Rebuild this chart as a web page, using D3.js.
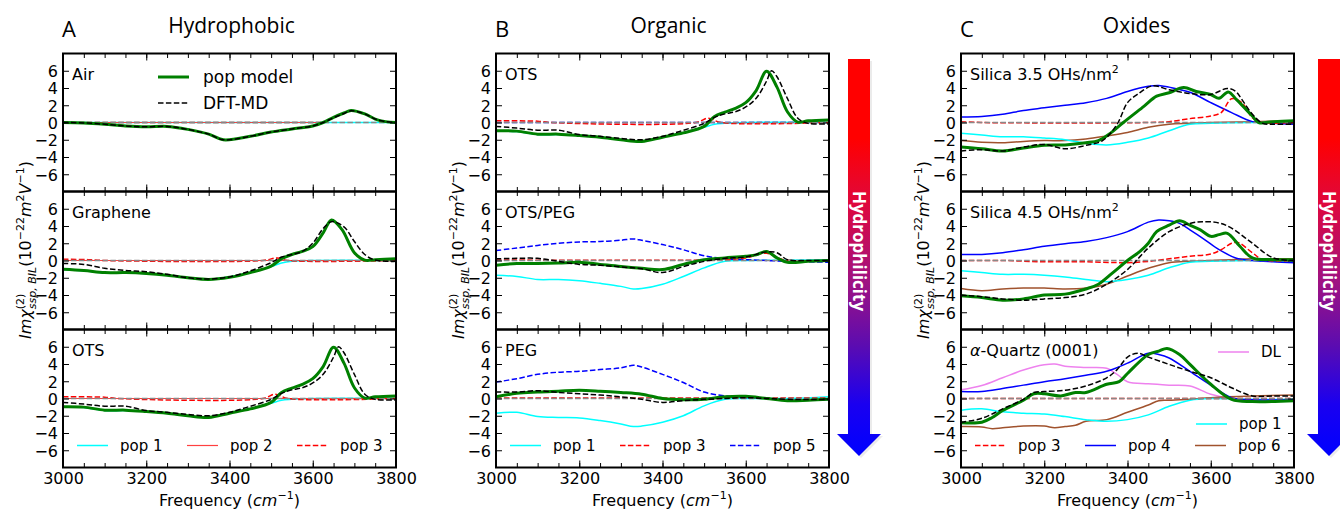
<!DOCTYPE html>
<html>
<head>
<meta charset="utf-8">
<script src="https://cdn.jsdelivr.net/npm/d3@7"></script>
<style>
  body { margin: 0; background: #fff; }
  text { font-family: "DejaVu Sans", sans-serif; }
</style>
</head>
<body>
<div id="viz"></div>
<script>
"use strict";
(function(){
    // ---- data: [frequency cm^-1, Im chi (1e-22 m2/V)] ----
    const freqTicks = [3000, 3200, 3400, 3600, 3800]
    const valueTicks = [-6, -4, -2, 0, 2, 4, 6]

    // A / Air
    const airModel = [[3000,0],[3050,-0.05],[3100,-0.2],[3150,-0.4],[3200,-0.5],[3250,-0.45],[3300,-0.8],[3350,-1.35],[3385,-2.0],[3450,-1.6],[3500,-1.1],[3550,-0.75],[3600,-0.4],[3625,0],[3650,0.6],[3675,1.1],[3692,1.4],[3725,1.0],[3750,0.4],[3775,0.1],[3800,0]]
    const airDft = [[3000,0],[3050,-0.05],[3100,-0.2],[3150,-0.4],[3200,-0.5],[3250,-0.45],[3300,-0.8],[3350,-1.35],[3385,-2.0],[3450,-1.6],[3500,-1.1],[3550,-0.75],[3600,-0.4],[3625,0],[3650,0.55],[3675,1.05],[3692,1.35],[3725,1.0],[3750,0.4],[3775,0.1],[3800,0]]
    const airPop1 = [[3000,0],[3800,0]]
    const airPop2 = [[3000,0],[3620,0]]
    const airPop3 = [[3000,0],[3620,0]]

    // A / Graphene
    const grModel = [[3000,-1.0],[3050,-1.15],[3100,-1.4],[3150,-1.4],[3200,-1.5],[3250,-1.7],[3300,-2.0],[3350,-2.2],[3400,-1.95],[3450,-1.4],[3500,-0.65],[3525,0.2],[3550,0.7],[3575,1.05],[3600,1.6],[3625,3.2],[3645,4.7],[3670,3.6],[3700,0.9],[3725,0.05],[3750,0.1],[3800,0.2]]
    const grDft = [[3000,-0.35],[3050,-0.45],[3100,-0.9],[3150,-1.15],[3200,-1.3],[3250,-1.6],[3300,-2.0],[3350,-2.15],[3400,-1.9],[3450,-1.2],[3500,-0.25],[3525,0.4],[3550,0.7],[3575,1.05],[3600,2.0],[3625,3.7],[3645,4.5],[3675,3.9],[3700,2.2],[3725,0.7],[3750,0.05],[3800,-0.1]]
    const grPop1 = [[3000,-1.05],[3050,-1.2],[3100,-1.45],[3150,-1.45],[3200,-1.5],[3250,-1.7],[3300,-2.0],[3350,-2.2],[3400,-1.9],[3450,-1.4],[3500,-0.7],[3525,-0.3],[3550,-0.1],[3600,0],[3800,0]]
    const grPop2 = [[3000,0],[3800,0]]
    const grPop3 = [[3000,0.15],[3060,0.1],[3100,0],[3480,0],[3515,0.3],[3540,0],[3800,0]]

    // A / OTS and B / OTS
    const otsModel = [[3000,-0.95],[3050,-1.0],[3100,-1.35],[3150,-1.35],[3200,-1.5],[3250,-1.7],[3300,-2.0],[3350,-2.2],[3400,-1.7],[3450,-1.2],[3500,-0.45],[3525,0.7],[3550,1.2],[3575,1.65],[3600,2.3],[3625,3.7],[3650,5.95],[3675,4.1],[3700,1.25],[3725,0.05],[3750,0.2],[3800,0.3]]
    const otsDft = [[3000,-0.45],[3050,-0.65],[3100,-0.9],[3150,-0.9],[3200,-1.4],[3250,-1.6],[3300,-1.85],[3350,-2.0],[3400,-1.6],[3450,-0.9],[3500,-0.1],[3525,0.6],[3550,1.0],[3575,1.25],[3600,1.8],[3625,2.8],[3650,4.8],[3662,6.0],[3675,5.3],[3700,2.8],[3725,0.5],[3750,-0.1],[3800,-0.15]]
    const otsPop1 = [[3000,-1.0],[3050,-1.05],[3100,-1.4],[3150,-1.4],[3200,-1.5],[3250,-1.7],[3300,-2.0],[3350,-2.2],[3400,-1.7],[3450,-1.2],[3500,-0.55],[3525,-0.2],[3550,-0.1],[3600,0],[3800,0]]
    const otsPop2 = [[3000,0],[3800,0]]
    const otsPop3 = [[3000,0.2],[3100,0.15],[3130,0],[3480,0],[3510,0.5],[3540,0],[3800,0]]
    const otsPop5 = [[3000,0],[3800,0]]

    // B / OTS-PEG
    const opModel = [[3000,-0.55],[3050,-0.35],[3100,-0.35],[3150,-0.3],[3200,-0.2],[3250,-0.45],[3300,-0.7],[3350,-0.9],[3400,-1.05],[3450,-0.45],[3500,0.1],[3550,0.3],[3600,0.5],[3625,0.65],[3650,1.05],[3675,0.3],[3700,-0.2],[3750,-0.1],[3800,0]]
    const opDft = [[3000,0.2],[3050,0.25],[3100,0.25],[3150,-0.1],[3200,-0.45],[3250,-0.55],[3300,-0.75],[3350,-0.95],[3400,-1.4],[3450,-0.7],[3500,-0.1],[3550,0.25],[3600,0.4],[3650,1.0],[3675,0.9],[3700,0.1],[3750,0],[3800,0]]
    const opPop1 = [[3000,-1.7],[3050,-1.85],[3100,-2.2],[3150,-2.2],[3200,-2.35],[3250,-2.65],[3300,-3.0],[3330,-3.3],[3350,-3.25],[3400,-2.75],[3450,-1.85],[3500,-0.85],[3550,-0.1],[3600,0],[3800,0.1]]
    const opPop3 = [[3000,0.05],[3500,0.05],[3550,0.1],[3600,0.3],[3650,0.85],[3690,0.1],[3800,0]]
    const opPop5 = [[3000,1.15],[3050,1.45],[3100,1.75],[3150,2.0],[3200,2.15],[3250,2.2],[3300,2.35],[3330,2.5],[3350,2.35],[3400,1.85],[3450,1.25],[3500,0.55],[3550,0.2],[3600,0.1],[3650,0],[3700,-0.1],[3750,-0.15],[3800,-0.2]]

    // B / PEG
    const pegModel = [[3000,0.2],[3050,0.6],[3100,0.75],[3150,0.85],[3200,0.95],[3250,0.85],[3300,0.7],[3350,0.5],[3400,0],[3450,-0.15],[3500,-0.1],[3550,0.2],[3600,0.25],[3650,0],[3700,-0.25],[3750,-0.2],[3800,-0.1]]
    const pegDft = [[3000,0.75],[3050,0.75],[3100,0.9],[3150,0.7],[3200,0.55],[3250,0.4],[3300,0.2],[3350,-0.1],[3400,-0.45],[3450,-0.25],[3500,-0.1],[3550,0],[3600,0.1],[3650,0],[3700,-0.1],[3800,-0.1]]
    const pegPop1 = [[3000,-1.7],[3050,-1.6],[3100,-2.1],[3150,-2.2],[3200,-2.25],[3250,-2.55],[3300,-2.95],[3330,-3.25],[3350,-3.2],[3400,-2.75],[3450,-2.0],[3500,-0.85],[3550,-0.1],[3600,0],[3700,0],[3800,0.2]]
    const pegPop3 = [[3000,0.05],[3800,0.05]]
    const pegPop5 = [[3000,1.9],[3050,2.3],[3100,2.8],[3150,3.05],[3200,3.15],[3250,3.35],[3300,3.55],[3330,3.85],[3350,3.65],[3400,2.8],[3450,1.85],[3500,0.75],[3550,0.3],[3600,0.1],[3650,0],[3700,-0.15],[3800,-0.15]]

    // C / Silica 3.5 OHs/nm2
    const s35Model = [[3000,-2.85],[3050,-3.05],[3100,-3.3],[3150,-2.95],[3200,-2.65],[3250,-2.6],[3300,-2.35],[3330,-2.1],[3360,-1.2],[3390,0],[3440,1.9],[3470,3.05],[3500,3.45],[3535,4.05],[3565,3.6],[3600,3.25],[3620,2.8],[3642,3.55],[3662,2.65],[3700,0.75],[3715,0],[3750,0.1],[3800,0.2]]
    const s35Dft = [[3000,-3.3],[3050,-3.15],[3100,-3.3],[3150,-2.85],[3200,-2.55],[3250,-3.05],[3300,-2.65],[3340,-2.1],[3375,-0.2],[3400,2.3],[3425,3.3],[3460,4.25],[3500,3.8],[3550,3.35],[3600,3.25],[3640,3.95],[3660,3.6],[3675,2.65],[3700,0.95],[3725,-0.1],[3750,-0.2],[3800,-0.2]]
    const s35Pop1 = [[3000,-1.25],[3050,-1.45],[3100,-1.65],[3150,-1.65],[3200,-1.8],[3250,-2.0],[3300,-2.4],[3350,-2.6],[3400,-2.3],[3450,-1.8],[3500,-0.95],[3550,-0.2],[3600,-0.1],[3700,0],[3800,0]]
    const s35Pop3 = [[3000,0.1],[3050,0],[3450,0],[3500,0.1],[3550,0.45],[3600,0.75],[3625,1.15],[3650,2.75],[3675,2.3],[3700,0.55],[3725,0],[3800,0]]
    const s35Pop4 = [[3000,0.65],[3050,0.7],[3100,0.95],[3150,1.4],[3200,1.7],[3250,2.0],[3300,2.3],[3350,2.8],[3400,3.6],[3450,4.2],[3475,4.3],[3500,4.1],[3550,3.5],[3600,2.3],[3650,1.15],[3700,0.1],[3750,-0.1],[3800,-0.2]]
    const s35Pop6 = [[3000,-2.1],[3050,-2.3],[3100,-2.35],[3150,-2.2],[3200,-2.1],[3250,-2.1],[3300,-1.9],[3350,-1.55],[3400,-1.15],[3450,-0.55],[3500,-0.2],[3550,-0.1],[3600,0],[3700,0.1],[3800,0.2]]

    // C / Silica 4.5 OHs/nm2
    const s45Model = [[3000,-4.1],[3050,-4.3],[3100,-4.6],[3150,-4.45],[3200,-4.0],[3250,-3.9],[3300,-3.3],[3330,-2.75],[3365,-1.4],[3400,0],[3430,1.05],[3450,2.0],[3470,3.35],[3500,4.1],[3525,4.6],[3550,4.1],[3575,3.55],[3600,2.8],[3620,3.0],[3640,3.15],[3670,1.65],[3700,0.3],[3750,0.1],[3800,0.1]]
    const s45Dft = [[3000,-4.0],[3050,-4.2],[3100,-4.45],[3150,-4.6],[3200,-4.45],[3250,-4.3],[3300,-3.9],[3350,-2.75],[3400,-1.05],[3450,1.45],[3500,3.35],[3550,4.3],[3580,4.5],[3620,4.35],[3650,3.75],[3700,2.0],[3750,0.3],[3800,0]]
    const s45Pop1 = [[3000,-1.2],[3050,-1.4],[3100,-1.6],[3150,-1.6],[3200,-1.7],[3250,-1.9],[3300,-2.2],[3350,-2.45],[3400,-2.2],[3450,-1.7],[3500,-0.85],[3550,-0.2],[3600,-0.1],[3700,0],[3800,-0.1]]
    const s45Pop3 = [[3000,0],[3100,0],[3200,-0.15],[3300,-0.15],[3400,-0.25],[3450,-0.1],[3500,0.2],[3550,0.5],[3600,0.75],[3625,1.25],[3650,2.0],[3665,2.1],[3700,0.9],[3725,0.1],[3800,0]]
    const s45Pop4 = [[3000,0.7],[3050,0.7],[3100,0.9],[3150,1.25],[3200,1.65],[3250,1.95],[3300,2.2],[3350,2.65],[3400,3.35],[3450,4.45],[3475,4.7],[3500,4.6],[3525,4.3],[3550,3.55],[3580,2.6],[3620,1.25],[3660,0.3],[3700,0],[3750,-0.15],[3800,-0.25]]
    const s45Pop6 = [[3000,-3.25],[3050,-3.5],[3100,-3.3],[3150,-3.2],[3200,-3.2],[3250,-3.3],[3300,-3.2],[3350,-2.75],[3400,-1.8],[3450,-0.9],[3500,-0.25],[3550,-0.1],[3600,0],[3650,0.1],[3700,0.2],[3800,0.2]]

    // C / alpha-Quartz (0001)
    const qzModel = [[3000,-2.8],[3050,-2.75],[3075,-2.2],[3100,-1.4],[3150,-0.2],[3175,0.55],[3200,0.55],[3240,0.3],[3275,0.7],[3300,0.7],[3350,1.65],[3380,1.95],[3400,2.9],[3450,5.1],[3475,5.5],[3495,5.8],[3525,5.1],[3550,3.95],[3600,1.65],[3650,-0.1],[3700,-0.35],[3800,-0.25]]
    const qzDft = [[3000,-2.75],[3050,-2.3],[3100,-1.2],[3150,-0.1],[3175,0.7],[3200,0.8],[3250,0.95],[3300,1.45],[3350,2.4],[3375,3.35],[3400,4.8],[3425,5.25],[3450,4.8],[3500,3.95],[3550,3.15],[3600,2.4],[3650,1.25],[3700,0.3],[3750,0.3],[3800,0.3]]
    const qzPop1 = [[3000,-1.35],[3050,-1.2],[3100,-1.55],[3150,-1.7],[3200,-1.8],[3250,-2.1],[3300,-2.45],[3350,-2.65],[3400,-2.45],[3450,-1.9],[3500,-0.9],[3550,-0.2],[3600,0],[3700,-0.1],[3800,-0.1]]
    const qzPop3 = [[3000,0],[3800,0]]
    const qzPop4 = [[3000,0.8],[3050,0.8],[3100,1.15],[3150,1.55],[3200,1.95],[3250,2.3],[3300,2.7],[3350,3.15],[3400,4.1],[3450,5.25],[3475,5.1],[3500,4.7],[3550,3.15],[3600,1.55],[3650,0.1],[3700,-0.15],[3800,-0.15]]
    const qzPop6 = [[3000,-3.25],[3050,-3.3],[3075,-3.5],[3100,-3.4],[3150,-3.2],[3200,-3.2],[3225,-3.4],[3250,-3.25],[3275,-3.1],[3300,-2.65],[3350,-2.45],[3400,-1.6],[3450,-0.75],[3475,-0.25],[3500,-0.2],[3550,-0.1],[3600,0.1],[3700,0.3],[3800,0.4]]
    const qzDL = [[3000,1.0],[3050,1.5],[3100,2.4],[3150,3.3],[3200,3.9],[3225,4.0],[3250,3.75],[3300,3.6],[3350,3.5],[3375,2.8],[3400,1.95],[3450,1.7],[3500,1.55],[3550,1.45],[3600,0.5],[3650,0],[3700,-0.15],[3800,-0.25]]

    const columnTitles = ["Hydrophobic", "Organic", "Oxides"]
    const columnLetters = ["A", "B", "C"]

    // ---- layout ----
    const measurements = { width: 1340, height: 512, panelW: 333, panelH: 138 }
    const colLeft = [63, 496, 961]
    const rowTop = [53.5, 191.5, 329.5]
    const dash = "5.5,2.4"

    const popStyle = {
        "pop 1": { color: "#00ffff", width: 1.5 },
        "pop 2": { color: "#ff4040", width: 1.2 },
        "pop 3": { color: "#ff0000", width: 1.5, dash: dash },
        "pop 4": { color: "#0000ff", width: 1.5 },
        "pop 5": { color: "#0000ff", width: 1.5, dash: dash },
        "pop 6": { color: "#a0522d", width: 1.5 },
        "DL": { color: "#ee82ee", width: 1.5 }
    }

    const panels = [
        { col: 0, row: 0, label: ["Air"], model: airModel, dft: airDft, pops: [["pop 1", airPop1], ["pop 2", airPop2], ["pop 3", airPop3]] },
        { col: 0, row: 1, label: ["Graphene"], model: grModel, dft: grDft, pops: [["pop 1", grPop1], ["pop 2", grPop2], ["pop 3", grPop3]] },
        { col: 0, row: 2, label: ["OTS"], model: otsModel, dft: otsDft, pops: [["pop 1", otsPop1], ["pop 2", otsPop2], ["pop 3", otsPop3]] },
        { col: 1, row: 0, label: ["OTS"], model: otsModel, dft: otsDft, pops: [["pop 1", otsPop1], ["pop 5", otsPop5], ["pop 3", otsPop3]] },
        { col: 1, row: 1, label: ["OTS/PEG"], model: opModel, dft: opDft, pops: [["pop 1", opPop1], ["pop 5", opPop5], ["pop 3", opPop3]] },
        { col: 1, row: 2, label: ["PEG"], model: pegModel, dft: pegDft, pops: [["pop 1", pegPop1], ["pop 5", pegPop5], ["pop 3", pegPop3]] },
        { col: 2, row: 0, label: ["Silica 3.5 OHs/nm", "2"], model: s35Model, dft: s35Dft, pops: [["pop 6", s35Pop6], ["pop 1", s35Pop1], ["pop 4", s35Pop4], ["pop 3", s35Pop3]] },
        { col: 2, row: 1, label: ["Silica 4.5 OHs/nm", "2"], model: s45Model, dft: s45Dft, pops: [["pop 6", s45Pop6], ["pop 1", s45Pop1], ["pop 4", s45Pop4], ["pop 3", s45Pop3]] },
        { col: 2, row: 2, label: ["α", "-Quartz (0001)"], model: qzModel, dft: qzDft, pops: [["DL", qzDL], ["pop 6", qzPop6], ["pop 1", qzPop1], ["pop 4", qzPop4], ["pop 3", qzPop3]] }
    ]

    const svg = d3.select("#viz").append("svg")
        .attr("width", measurements.width)
        .attr("height", measurements.height)

    const defs = svg.append("defs")

    panels.forEach((p, i) => drawPanel(p, i))

    // column titles, x labels, y labels
    colLeft.forEach((left, c) => {
        const cx = left + measurements.panelW / 2
        svg.append("text")
            .attr("x", left - 1).attr("y", 37)
            .style("font-family", "'Open Sans', sans-serif").style("font-size", "22px")
            .text(columnLetters[c])
        svg.append("text")
            .attr("x", cx + [2, 6, 9][c]).attr("y", 33)
            .attr("text-anchor", "middle")
            .style("font-family", "'Open Sans', sans-serif").style("font-size", "21px")
            .text(columnTitles[c])

        const xl = svg.append("text")
            .attr("x", cx).attr("y", 506)
            .attr("text-anchor", "middle")
            .style("font-size", "16px")
        xl.append("tspan").text("Frequency (")
        xl.append("tspan").style("font-style", "italic").text("cm")
        xl.append("tspan").attr("dy", -7).style("font-size", "11px").text("−1")
        xl.append("tspan").attr("dy", 7).text(")")

        drawYLabel(left - 32, 250)
    })

    // legends
    legendRow(colLeft[0] + 95, 77, "pop model", { color: "#008000", width: 3 }, 17)
    legendRow(colLeft[0] + 95, 103, "DFT-MD", { color: "#000", width: 1.5, dash: dash }, 17)
    ;["pop 1", "pop 2", "pop 3"].forEach((k, j) => legendRow(colLeft[0] + 14 + j * 110, 445.5, k, popStyle[k], 15))
    ;["pop 1", "pop 3", "pop 5"].forEach((k, j) => legendRow(colLeft[1] + 14 + j * 110, 445.5, k, popStyle[k], 15))
    ;["pop 3", "pop 4", "pop 6"].forEach((k, j) => legendRow(colLeft[2] + 14 + j * 110, 445.5, k, popStyle[k], 15))
    legendRow(colLeft[2] + 235, 424, "pop 1", popStyle["pop 1"], 15)
    legendRow(colLeft[2] + 257, 352, "DL", popStyle["DL"], 15)

    // hydrophilicity arrows
    drawArrow(859)
    drawArrow(1329)

    function drawPanel(p, i) {
        const left = colLeft[p.col], top = rowTop[p.row]
        const W = measurements.panelW, H = measurements.panelH
        const x = d3.scaleLinear().domain([3000, 3800]).range([left, left + W])
        const y = d3.scaleLinear().domain([-8, 8]).range([top + H, top])
        const g = svg.append("g")

        defs.append("clipPath").attr("id", "clip" + i)
            .append("rect").attr("x", left).attr("y", top).attr("width", W).attr("height", H)

        const line = d3.line()
            .x(d => x(d[0])).y(d => y(d[1]))
            .curve(d3.curveCatmullRom.alpha(0.5))

        const plot = g.append("g").attr("clip-path", "url(#clip" + i + ")")
        p.pops.forEach(([key, data]) => {
            const s = popStyle[key]
            plot.append("path").datum(data)
                .attr("d", line).attr("fill", "none")
                .attr("stroke", s.color).attr("stroke-width", s.width)
                .attr("stroke-dasharray", s.dash || null)
        })
        plot.append("line")
            .attr("x1", left).attr("x2", left + W)
            .attr("y1", y(0)).attr("y2", y(0))
            .attr("stroke", "#888").attr("stroke-width", 1.5).attr("stroke-dasharray", dash)
        plot.append("path").datum(p.model)
            .attr("d", line).attr("fill", "none")
            .attr("stroke", "#008000").attr("stroke-width", 3)
        plot.append("path").datum(p.dft)
            .attr("d", line).attr("fill", "none")
            .attr("stroke", "#000").attr("stroke-width", 1.5).attr("stroke-dasharray", dash)

        // ticks, pointing inward on every side
        const minor = d3.range(3000, 3801, 50)
        const isBottom = p.row === 2
        const bx = g.append("g").attr("transform", `translate(0,${top + H})`)
            .call(d3.axisBottom(x).tickValues(minor).tickSize(-4.5).tickFormat(""))
        const bxMaj = g.append("g").attr("transform", `translate(0,${top + H})`)
            .call(d3.axisBottom(x).tickValues(freqTicks).tickSize(-7).tickPadding(5).tickFormat(isBottom ? d3.format("d") : ""))
        const tx = g.append("g").attr("transform", `translate(0,${top})`)
            .call(d3.axisTop(x).tickValues(minor).tickSize(-4.5).tickFormat(""))
        const txMaj = g.append("g").attr("transform", `translate(0,${top})`)
            .call(d3.axisTop(x).tickValues(freqTicks).tickSize(-7).tickFormat(""))
        const ly = g.append("g").attr("transform", `translate(${left},0)`)
            .call(d3.axisLeft(y).tickValues(valueTicks).tickSize(-6).tickPadding(5))
        const ry = g.append("g").attr("transform", `translate(${left + W},0)`)
            .call(d3.axisRight(y).tickValues(valueTicks).tickSize(-6).tickFormat(""))
        ;[bx, bxMaj, tx, txMaj, ly, ry].forEach(a => {
            a.select(".domain").remove()
            a.selectAll(".tick line").attr("stroke", "#000").attr("stroke-width", 1)
            a.selectAll(".tick text").attr("fill", "#000").style("font-size", "16px")
                .style("font-family", "'DejaVu Sans', sans-serif")
        })
        ly.selectAll(".tick text").attr("dy", "0.36em")

        g.append("rect")
            .attr("x", left).attr("y", top).attr("width", W).attr("height", H)
            .attr("fill", "none").attr("stroke", "#000").attr("stroke-width", 2)

        // panel name
        const t = g.append("text").attr("x", left + 9).attr("y", top + 26).style("font-size", "16px")
        if (p.label[0] === "α") {
            t.append("tspan").style("font-style", "italic").text(p.label[0])
            t.append("tspan").text(p.label[1])
        } else {
            t.append("tspan").text(p.label[0])
            if (p.label[1]) t.append("tspan").attr("dy", -7).style("font-size", "11px").text(p.label[1])
        }
    }

    function legendRow(x0, yy, name, s, size) {
        svg.append("line")
            .attr("x1", x0).attr("x2", x0 + 31).attr("y1", yy).attr("y2", yy)
            .attr("stroke", s.color).attr("stroke-width", s.width)
            .attr("stroke-dasharray", s.dash || null)
        svg.append("text")
            .attr("x", x0 + 43 + (size > 15 ? 2 : 0)).attr("y", yy + (size > 15 ? 6 : 5))
            .style("font-size", size + "px")
            .text(name)
    }

    function drawYLabel(xx, yy) {
        const t = svg.append("text")
            .attr("transform", `translate(${xx},${yy}) rotate(-90)`)
            .attr("text-anchor", "middle")
            .style("font-size", "16px")
        t.append("tspan").style("font-style", "italic").text("Imχ")
        const sup = t.append("tspan").attr("dy", -7).style("font-size", "11px").text("(2)")
        const supW = sup.node().getComputedTextLength()
        t.append("tspan").attr("dx", -supW).attr("dy", 12)
            .style("font-size", "11px").style("font-style", "italic").text("ssp, BIL")
        t.append("tspan").attr("dy", -5).text("(10")
        t.append("tspan").attr("dy", -7).style("font-size", "11px").text("−22")
        t.append("tspan").attr("dy", 7).style("font-style", "italic").text("m")
        t.append("tspan").attr("dy", -7).style("font-size", "11px").text("2")
        t.append("tspan").attr("dy", 7).style("font-style", "italic").text("V")
        t.append("tspan").attr("dy", -7).style("font-size", "11px").text("−1")
        t.append("tspan").attr("dy", 7).text(")")
    }

    function drawArrow(cx) {
        const id = "grad" + cx
        const grad = defs.append("linearGradient").attr("id", id)
            .attr("gradientUnits", "userSpaceOnUse")
            .attr("x1", 0).attr("x2", 0).attr("y1", 59).attr("y2", 456)
        ;[[0, "#ff0000"], [0.2, "#ff0000"], [0.36, "#e0083c"], [0.56, "#a01282"], [0.72, "#5c0cb0"], [0.87, "#1a00f0"], [1, "#0000ff"]]
            .forEach(([o, c]) => grad.append("stop").attr("offset", o).attr("stop-color", c))
        const pts = [[cx - 11, 59], [cx + 11, 59], [cx + 11, 434], [cx + 22, 434], [cx, 456], [cx - 22, 434], [cx - 11, 434]]
        svg.append("polygon")
            .attr("points", pts.map(d => [d[0] + 2, d[1] + 2].join(",")).join(" "))
            .attr("fill", "#000").attr("opacity", 0.08)
        svg.append("polygon")
            .attr("points", pts.map(d => d.join(",")).join(" "))
            .attr("fill", "url(#" + id + ")")
        svg.append("text")
            .attr("transform", `translate(${cx - 6},251) rotate(90)`)
            .attr("text-anchor", "middle")
            .style("font-family", "'Open Sans', sans-serif").style("font-weight", "bold")
            .style("font-size", "17px").attr("fill", "#fff")
            .text("Hydrophilicity")
    }
})()
</script>
</body>
</html>
